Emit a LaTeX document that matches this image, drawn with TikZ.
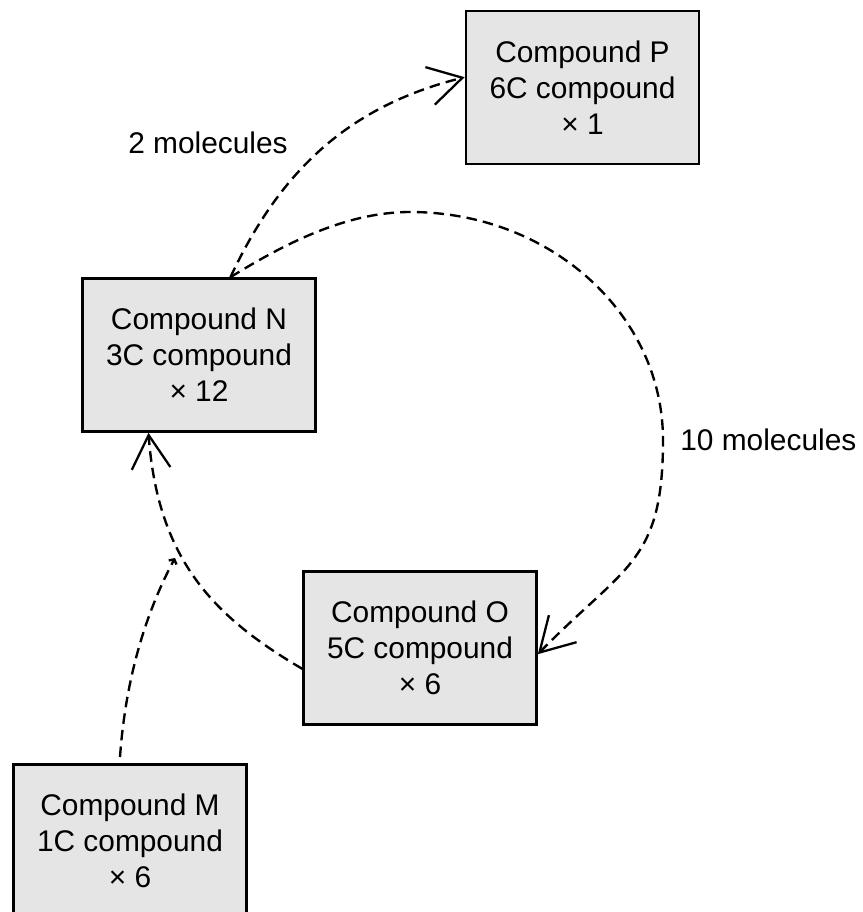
\documentclass[tikz,border=0pt]{standalone}
\usepackage{fontspec}
\setmainfont{Liberation Sans}
\usetikzlibrary{arrows.meta}

\tikzset{
  compound/.style={draw, line width=1.5pt, fill=gray!20, minimum width=4.66cm,
    minimum height=3.06cm, align=center, font=\fontsize{17}{20.4}\selectfont},
  flow/.style={line width=1.35pt, dash pattern=on 6pt off 3.5pt},
  barb/.style={-{Straight Barb[length=19pt,width=22pt,line width=1.3pt]}},
  molecules/.style={font=\fontsize{17}{20.4}\selectfont, inner sep=0pt}
}

\begin{document}
\begin{tikzpicture}
	\useasboundingbox (0,0) rectangle (17.26,-18.24);
	% draw compounds
	\node[compound] (P) at (11.65,-1.75) {Compound P\\6C compound\\× 1};
	\node[compound] (N) at (3.98,-7.10) {Compound N\\3C compound\\× 12};
	\node[compound] (O) at (8.40,-12.96) {Compound O\\5C compound\\× 6};
	\node[compound] (M) at (2.60,-16.82) {Compound M\\1C compound\\× 6};

	% N to P
	\draw[flow, barb] (N.68) .. controls (5.62,-3.38) and (7.00,-2.12) .. (P.175);
	\node[molecules] (two) at (4.16,-2.86) {2 molecules};

	% N round to O
	\draw[flow, barb] (N.68) .. controls (5.68,-4.88) and (6.92,-4.24) .. (8.20,-4.24)
		.. controls (11.00,-4.24) and (13.26,-6.28) .. (13.26,-8.80)
		.. controls (13.26,-11.26) and (12.50,-11.30) .. (O.357);
	\node[molecules, anchor=west] (ten) at (13.60,-8.80) {10 molecules};

	% O back to N
	\draw[flow, barb] (O.190) .. controls (4.32,-12.36) and (3.16,-11.24) .. (N.237);

	% M joins the O to N line
	\coordinate (Mout) at (2.40,-15.14);
	\coordinate (join) at (3.50,-11.16);
	\draw[flow, -{Straight Barb[length=2pt,width=5pt]}] (Mout) .. controls (2.50,-13.74) and (2.84,-12.40) .. (join);
\end{tikzpicture}
\end{document}
